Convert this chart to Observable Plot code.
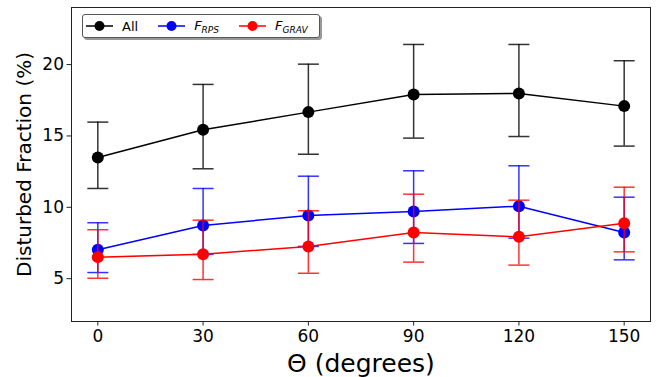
<!DOCTYPE html>
<html>
<head>
<meta charset="utf-8">
<script src="https://cdn.jsdelivr.net/npm/d3@7"></script>
<script src="https://cdn.jsdelivr.net/npm/@observablehq/plot@0.6"></script>
<style>
  html, body { margin: 0; padding: 0; background: white; }
  #wrap { position: relative; width: 659px; height: 377px; font-family: "DejaVu Sans", sans-serif; }
  #legend { position: absolute; left: 82px; top: 14px; width: 236px; height: 22px;
    border: 1px solid #555; border-radius: 3px; background: white; box-shadow: 2px 2px 0 #999;
    display: flex; align-items: center; font-size: 13px; }
  .item { display: flex; align-items: center; margin-left: 3px; margin-right: 17px; }
  .item svg { margin-right: 9px; }
  sub { font-size: 9px; vertical-align: -3px; }
</style>
</head>
<body>
<div id="wrap"><div id="legend"></div></div>
<script>
const theta = [0, 30, 60, 90, 120, 150];
const xTicks = [0, 30, 60, 90, 120, 150];
const yTicks = [5, 10, 15, 20];

const allVal = [13.49, 15.43, 16.67, 17.91, 17.98, 17.09];
const allLo  = [11.32, 12.70, 13.72, 14.85, 14.96, 14.29];
const allHi  = [15.97, 18.61, 20.03, 21.41, 21.41, 20.27];

const rpsVal = [7.02, 8.73, 9.43, 9.71, 10.08, 8.24];
const rpsLo  = [5.43, 6.70, 7.26, 7.47, 7.84, 6.32];
const rpsHi  = [8.92, 11.32, 12.18, 12.56, 12.91, 10.71];

const gravVal = [6.51, 6.72, 7.26, 8.24, 7.93, 8.89];
const gravLo  = [5.03, 4.94, 5.38, 6.16, 5.95, 6.88];
const gravHi  = [8.43, 9.10, 9.76, 10.92, 10.50, 11.41];

const seriesNames = ["All", "F_RPS", "F_GRAV"];
const seriesColors = ["#000000", "#0000ff", "#ff0000"];
const seriesLabels = ["All", "<i>F</i><sub><i>RPS</i></sub>", "<i>F</i><sub><i>GRAV</i></sub>"];

const series = [
  {val: allVal, lo: allLo, hi: allHi},
  {val: rpsVal, lo: rpsLo, hi: rpsHi},
  {val: gravVal, lo: gravLo, hi: gravHi}
];

const capSymbol = {
  draw(ctx, size) {
    const r = Math.sqrt(size / Math.PI);
    ctx.moveTo(-r, 0);
    ctx.lineTo(r, 0);
  }
};

const marks = [];
series.forEach((s, i) => {
  const rows = theta.map((t, j) => ({theta: t, v: s.val[j], lo: s.lo[j], hi: s.hi[j]}));
  const c = seriesColors[i];
  marks.push(
    Plot.ruleX(rows, {x: "theta", y1: "lo", y2: "hi", stroke: c, strokeOpacity: 0.8, strokeWidth: 1.5}),
    Plot.dot(rows, {x: "theta", y: "lo", symbol: capSymbol, r: 10.5, stroke: c, strokeOpacity: 0.8, strokeWidth: 1.5, fill: "none"}),
    Plot.dot(rows, {x: "theta", y: "hi", symbol: capSymbol, r: 10.5, stroke: c, strokeOpacity: 0.8, strokeWidth: 1.5, fill: "none"}),
    Plot.line(rows, {x: "theta", y: "v", stroke: c, strokeWidth: 1.5}),
    Plot.dot(rows, {x: "theta", y: "v", fill: c, r: 6})
  );
});

const chart = Plot.plot({
  width: 659,
  height: 377,
  marginLeft: 71,
  marginRight: 9,
  marginTop: 7,
  marginBottom: 56,
  style: {fontFamily: "DejaVu Sans", fontSize: "17px", background: "white", color: "black"},
  x: {domain: [-7.5, 157.5]},
  y: {domain: [2, 24]},
  marks: [
    ...marks,
    Plot.frame({stroke: "#222", strokeWidth: 1}),
    Plot.axisX(xTicks, {tickSize: 4.5, tickPadding: 4, fontSize: 17, label: null, stroke: "#222"}),
    Plot.axisY(yTicks, {tickSize: 4.5, tickPadding: 3, fontSize: 17, label: null, stroke: "#222"}),
    Plot.text(["Θ (degrees)"], {frameAnchor: "bottom", dy: 50, lineAnchor: "bottom", textAnchor: "middle", fontSize: 25, fill: "black"}),
    Plot.text(["Disturbed Fraction (%)"], {frameAnchor: "left", dx: -47, rotate: -90, textAnchor: "middle", lineAnchor: "middle", fontSize: 20, fill: "black"})
  ]
});
document.getElementById("wrap").prepend(chart);

const legend = document.getElementById("legend");
seriesNames.forEach((n, i) => {
  const item = document.createElement("div");
  item.className = "item";
  const c = seriesColors[i];
  item.innerHTML = `<svg width="27" height="12"><line x1="0" x2="27" y1="6" y2="6" stroke="${c}" stroke-width="1.5"/><circle cx="13.5" cy="6" r="5" fill="${c}"/></svg><span>${seriesLabels[i]}</span>`;
  legend.appendChild(item);
});
</script>
</body>
</html>
